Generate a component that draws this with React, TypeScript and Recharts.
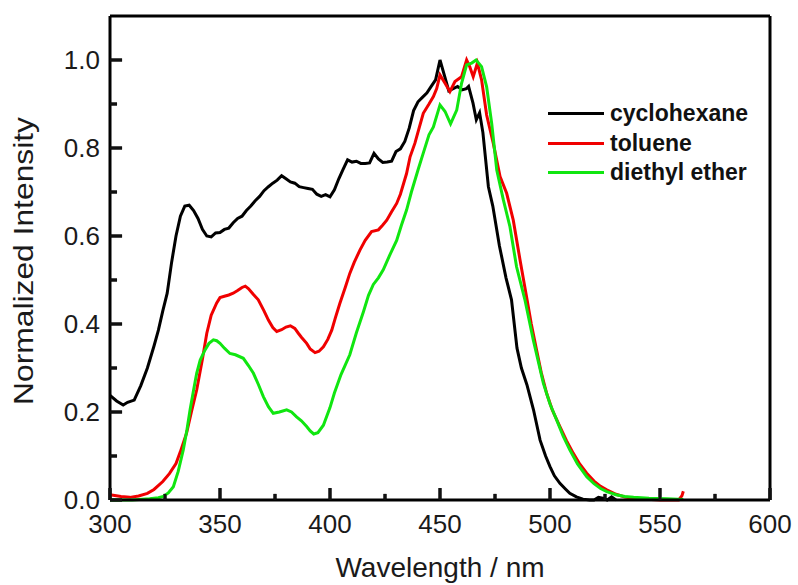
import { LineChart, Line, XAxis, YAxis, ReferenceLine } from "recharts";

// wavelength (nm) and normalized intensity
const cyclohexaneWl = [
  300, 303, 306, 308, 311, 314, 317, 320, 322, 324, 326, 328, 330, 332, 334, 336, 338, 340,
  342, 344, 346, 348, 350, 352, 354, 356, 358, 360, 362, 364, 366, 368, 370, 372, 374, 376,
  378, 380, 382, 384, 386, 388, 390, 392, 394, 396, 398, 400, 402, 404, 406, 408, 410, 412,
  414, 416, 418, 420, 422, 424, 426, 428, 430, 432, 434, 436, 438, 440, 442, 444, 446, 448,
  450, 452, 454, 456, 458, 460, 462, 463, 465, 466.5, 468, 469.5, 472, 474, 477, 480, 482.5,
  485, 487, 489.5, 492.5, 495.5, 498, 500, 502, 504.5, 507, 509, 512, 515, 518, 520, 522,
  524, 526, 528, 530,
];
const cyclohexaneInt = [
  0.238, 0.225, 0.216, 0.222, 0.227, 0.26, 0.3, 0.35, 0.386, 0.43, 0.47, 0.54, 0.6, 0.645,
  0.668, 0.67, 0.658, 0.64, 0.615, 0.6, 0.598, 0.607, 0.608, 0.615, 0.618, 0.63, 0.64, 0.645,
  0.658, 0.668, 0.68, 0.69, 0.703, 0.712, 0.72, 0.727, 0.737, 0.73, 0.723, 0.72, 0.712, 0.71,
  0.708, 0.706, 0.695, 0.69, 0.694, 0.689, 0.705, 0.73, 0.752, 0.773, 0.768, 0.77, 0.765,
  0.765, 0.766, 0.788, 0.775, 0.767, 0.768, 0.77, 0.792, 0.798, 0.815, 0.845, 0.885, 0.905,
  0.915, 0.925, 0.94, 0.955, 1.0, 0.965, 0.93, 0.935, 0.94, 0.932, 0.935, 0.94, 0.902, 0.864,
  0.88, 0.835, 0.712, 0.668, 0.578, 0.505, 0.455, 0.345, 0.3, 0.262, 0.205, 0.136, 0.1, 0.076,
  0.055, 0.038, 0.025, 0.015, 0.007, 0.002, 0.0, 0.0, 0.006, 0.004, 0.0, 0.007, 0.0,
];

const tolueneWl = [
  300, 305, 309, 313, 317, 320, 324, 327, 330, 332, 334.8, 337, 339.4, 342, 344, 346, 348.5,
  350, 352, 354, 356, 358, 360, 361.5, 363, 365, 367.4, 370, 372, 374, 375.8, 378, 380, 382,
  384, 385.6, 387, 389.4, 391, 393.2, 395, 397, 399, 400.8, 402.5, 404.5, 407, 409, 411,
  413.6, 416, 418.9, 422, 424, 425.8, 428, 430.3, 432, 434.8, 436.4, 438.6, 440.5, 442.4, 445,
  447, 448.5, 450, 452.3, 454.5, 456.8, 459.8, 462.1, 463.5, 465.1, 467, 468.9, 471.2, 474.2,
  477.3, 480.3, 483.3, 486.4, 489.4, 491.5, 493.9, 496, 498.5, 501, 504.5, 507.5, 510.6, 513.5,
  516.7, 520, 523, 525.8, 530, 534, 538, 542, 546, 550, 555, 558.5, 560, 560.6,
];
const tolueneInt = [
  0.012, 0.008, 0.006, 0.009, 0.015, 0.024, 0.042, 0.06, 0.083, 0.11, 0.152, 0.2, 0.25, 0.32,
  0.379, 0.42, 0.448, 0.46, 0.463, 0.466, 0.47, 0.476, 0.483, 0.486, 0.48, 0.468, 0.455, 0.43,
  0.409, 0.392, 0.383, 0.387, 0.393, 0.396, 0.39, 0.379, 0.37, 0.356, 0.343, 0.335, 0.338,
  0.348, 0.365, 0.386, 0.415, 0.447, 0.484, 0.515, 0.54, 0.568, 0.59, 0.61, 0.614, 0.625,
  0.636, 0.655, 0.674, 0.695, 0.742, 0.78, 0.811, 0.845, 0.879, 0.9, 0.917, 0.935, 0.966,
  0.947, 0.928, 0.951, 0.962, 1.0, 0.985, 0.962, 0.993, 0.955, 0.875, 0.811, 0.735, 0.697,
  0.636, 0.545, 0.46, 0.4, 0.341, 0.29, 0.242, 0.205, 0.167, 0.135, 0.106, 0.082, 0.061,
  0.043, 0.031, 0.023, 0.013, 0.007, 0.004, 0.002, 0.001, 0.0, 0.0, 0.0, 0.01, 0.02,
];

const etherWl = [
  300, 310, 318, 322, 324.2, 326.5, 328.8, 331, 333.3, 335, 336.4, 338, 339.4, 341, 343.2, 345,
  347, 348.5, 350, 352, 354.5, 357, 360.6, 363, 365.2, 367.5, 369.7, 372, 374.2, 377, 380.3,
  382.5, 384.8, 387, 389.4, 391, 392.6, 394.5, 397, 400, 402, 405, 409, 412, 415.2, 417.5,
  419.7, 422, 424.2, 427, 430.3, 432.5, 434.8, 437, 440, 442.5, 445, 447, 450, 452.3, 454.8,
  457.6, 459.8, 462.1, 464.4, 466.4, 468.9, 471.2, 473.5, 475.8, 478.8, 481.8, 484.8, 488.6,
  492.4, 497, 500, 503, 506, 509, 512.5, 516.7, 520, 523, 525.8, 530, 534, 538, 545, 553, 560.6,
];
const etherInt = [
  0.0, 0.0, 0.003, 0.005, 0.008, 0.016, 0.03, 0.065, 0.114, 0.16, 0.205, 0.25, 0.288, 0.318,
  0.341, 0.356, 0.364, 0.362, 0.356, 0.345, 0.333, 0.33, 0.322, 0.305, 0.288, 0.262, 0.235,
  0.212, 0.197, 0.2, 0.205, 0.2, 0.189, 0.18, 0.167, 0.157, 0.15, 0.153, 0.17, 0.21, 0.243,
  0.285, 0.33, 0.38, 0.428, 0.465, 0.49, 0.505, 0.523, 0.555, 0.59, 0.625, 0.659, 0.7, 0.75,
  0.79, 0.83, 0.848, 0.898, 0.883, 0.855, 0.886, 0.947, 0.989, 0.993, 1.0, 0.985, 0.939,
  0.856, 0.75, 0.682, 0.621, 0.53, 0.455, 0.364, 0.265, 0.218, 0.182, 0.145, 0.114, 0.082,
  0.053, 0.037, 0.026, 0.019, 0.012, 0.008, 0.006, 0.004, 0.003, 0.001,
];

const xTicks = [300, 325, 350, 375, 400, 425, 450, 475, 500, 525, 550, 575, 600];
const xLabels = [300, 350, 400, 450, 500, 550, 600];
const yTicks = [0, 0.1, 0.2, 0.3, 0.4, 0.5, 0.6, 0.7, 0.8, 0.9, 1.0];
const yLabels = [0, 0.2, 0.4, 0.6, 0.8, 1.0];

const seriesNames = ["cyclohexane", "toluene", "diethyl ether"];
const seriesColors = ["#000000", "#f00000", "#10e610"];

const toPoints = (wl: number[], val: number[]) => wl.map((w, i) => ({ w, v: val[i] }));

const seriesData = [
  toPoints(cyclohexaneWl, cyclohexaneInt),
  toPoints(tolueneWl, tolueneInt),
  toPoints(etherWl, etherInt),
];

const FONT = "'Liberation Sans', Arial, Helvetica, sans-serif";

// inward tick lengths in axis units (660px per 300 nm, 484px per 1.1)
const X_MAJOR_LEN = 0.027;
const X_MINOR_LEN = 0.014;
const Y_MAJOR_LEN = 5.5;
const Y_MINOR_LEN = 3.2;

const isYLabel = (v: number) => yLabels.some((l) => Math.abs(l - v) < 1e-6);

const XTick = (props: any) => {
  const { x, y, payload } = props;
  const major = xLabels.includes(payload.value);
  const len = major ? 12 : 6;
  return (
    <g>
      <line x1={x} x2={x} y1={y} y2={y - len} stroke="#111111" strokeWidth={3} />
      {major && (
        <text x={x} y={y + 33} textAnchor="middle" fontSize={26} fontFamily={FONT} fill="#1a1a1a">
          {payload.value}
        </text>
      )}
    </g>
  );
};

const YTick = (props: any) => {
  const { x, y, payload } = props;
  const major = isYLabel(payload.value);
  const len = major ? 12 : 7;
  return (
    <g>
      <line x1={x} x2={x + len} y1={y} y2={y} stroke="#111111" strokeWidth={3} />
      {major && (
        <text x={x - 10} y={y + 9} textAnchor="end" fontSize={26} fontFamily={FONT} fill="#1a1a1a">
          {payload.value.toFixed(1)}
        </text>
      )}
    </g>
  );
};

const XTitle = () => (
  <text x={440} y={577} textAnchor="middle" fontSize={28} fontFamily={FONT} fill="#1a1a1a">
    Wavelength / nm
  </text>
);

const YTitle = () => (
  <text
    transform="translate(33,261) rotate(-90)"
    textAnchor="middle"
    fontSize={28}
    fontFamily={FONT}
    fill="#1a1a1a"
    textLength={288}
    lengthAdjust="spacingAndGlyphs"
  >
    Normalized Intensity
  </text>
);

const LegendBox = () => (
  <div style={{ position: "absolute", left: 548, top: 99 }}>
    {seriesNames.map((name, i) => (
      <div key={name} style={{ display: "flex", alignItems: "center", height: 29.5 }}>
        <div style={{ width: 56, height: 3, background: seriesColors[i], marginRight: 6 }} />
        <span style={{ fontFamily: FONT, fontWeight: "bold", fontSize: 23, lineHeight: 1, color: "#111" }}>
          {name}
        </span>
      </div>
    ))}
  </div>
);

const axisLine = { stroke: "#000", strokeWidth: 3 };

export default function App() {
  return (
    <div style={{ position: "absolute", left: 0, top: 0, width: 798, height: 585, background: "#fff" }}>
      <LineChart width={798} height={585} margin={{ top: 16, right: 28, bottom: 84, left: 109 }}>
        <XAxis
          dataKey="w"
          type="number"
          domain={[300, 600]}
          ticks={xTicks}
          interval={0}
          height={1}
          tickSize={0}
          tickMargin={0}
          tickLine={false}
          axisLine={axisLine}
          tick={<XTick />}
          label={<XTitle />}
        />
        <YAxis
          type="number"
          domain={[0, 1.1]}
          ticks={yTicks}
          interval={0}
          width={1}
          tickSize={0}
          tickMargin={0}
          tickLine={false}
          axisLine={axisLine}
          tick={<YTick />}
          label={<YTitle />}
        />
        {/* frame: top and right borders */}
        <ReferenceLine y={1.1} stroke="#000" strokeWidth={3} ifOverflow="visible" />
        <ReferenceLine x={600} stroke="#000" strokeWidth={3} ifOverflow="visible" />
        {/* inward tick marks */}
        {xTicks.map((t) => (
          <ReferenceLine
            key={`xt${t}`}
            segment={[
              { x: t, y: 0 },
              { x: t, y: xLabels.includes(t) ? X_MAJOR_LEN : X_MINOR_LEN },
            ]}
            stroke="#111111"
            strokeWidth={3}
            ifOverflow="visible"
          />
        ))}
        {yTicks.map((t) => (
          <ReferenceLine
            key={`yt${t}`}
            segment={[
              { x: 300, y: t },
              { x: 300 + (isYLabel(t) ? Y_MAJOR_LEN : Y_MINOR_LEN), y: t },
            ]}
            stroke="#111111"
            strokeWidth={3}
            ifOverflow="visible"
          />
        ))}
        {seriesNames.map((name, i) => (
          <Line
            key={name}
            data={seriesData[i]}
            dataKey="v"
            name={name}
            stroke={seriesColors[i]}
            strokeWidth={3}
            dot={false}
            activeDot={false}
            type="linear"
            isAnimationActive={false}
          />
        ))}
      </LineChart>
      <LegendBox />
    </div>
  );
}
